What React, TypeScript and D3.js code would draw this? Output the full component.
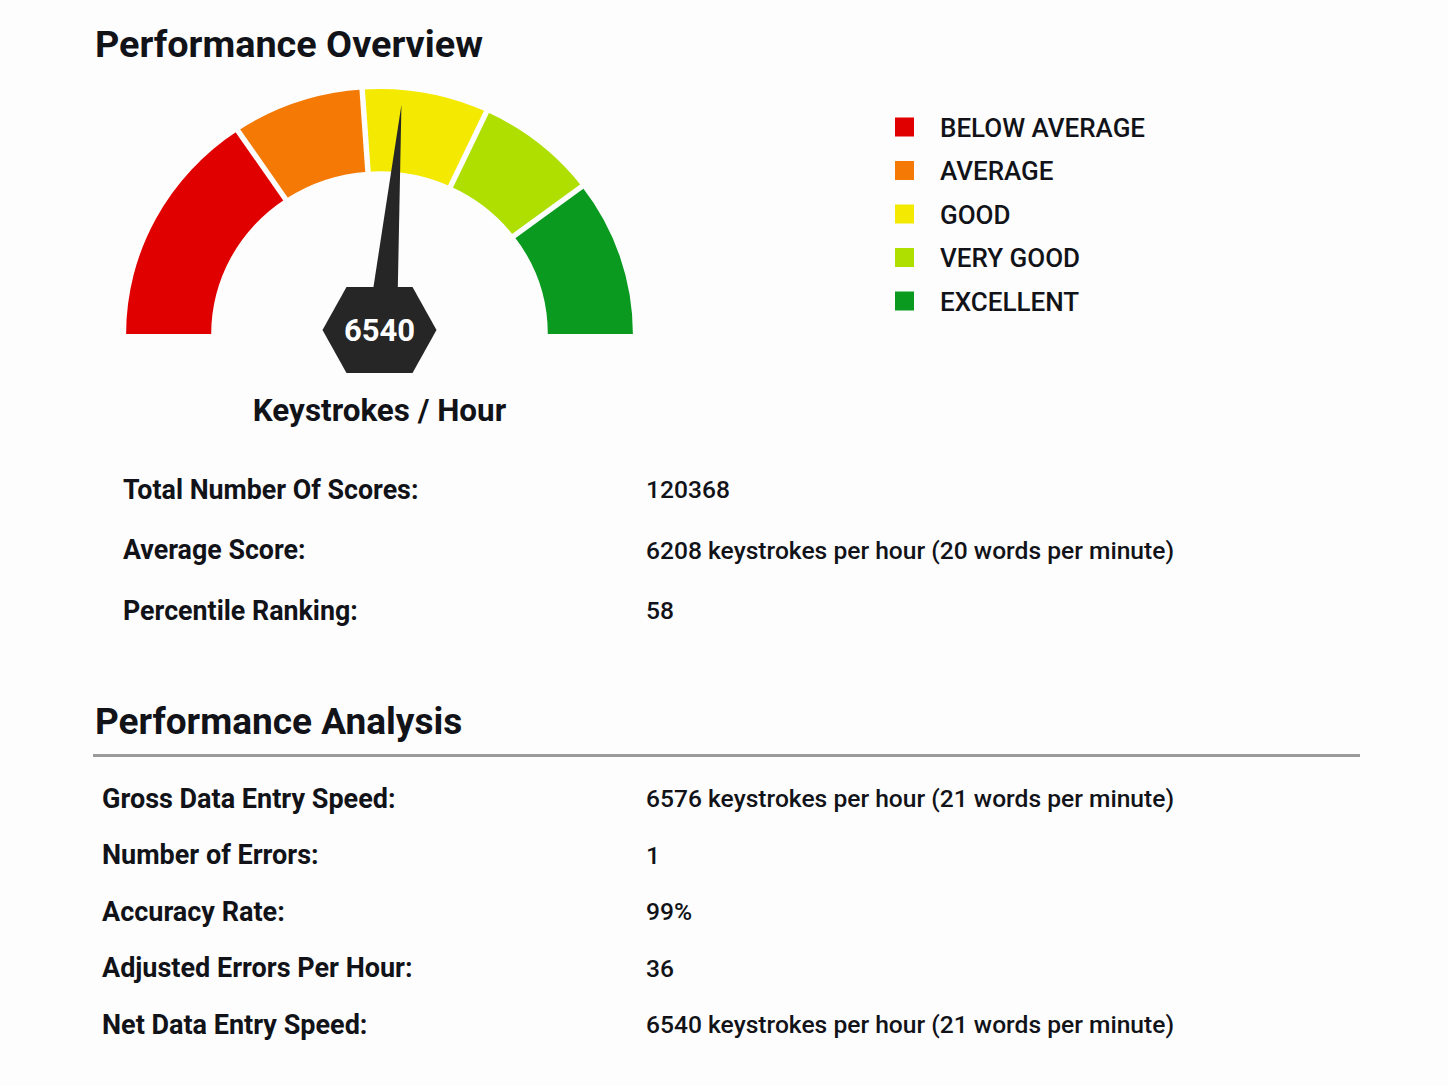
import React from "react";
import * as d3 from "d3";

const bandNames = ["BELOW AVERAGE", "AVERAGE", "GOOD", "VERY GOOD", "EXCELLENT"];
const bandColors = ["#e10000", "#f47a05", "#f4e900", "#aedf00", "#0a9a20"];
const bandEnds = [3860, 5930, 7920, 9850, 12400];
const gaugeMin = 0;
const gaugeMax = 12400;
const needleValue = 6540;
const gaugeLabel = "Keystrokes / Hour";

const overviewLabels = ["Total Number Of Scores:", "Average Score:", "Percentile Ranking:"];
const overviewValues = ["120368", "6208 keystrokes per hour (20 words per minute)", "58"];

const analysisLabels = [
  "Gross Data Entry Speed:",
  "Number of Errors:",
  "Accuracy Rate:",
  "Adjusted Errors Per Hour:",
  "Net Data Entry Speed:",
];
const analysisValues = [
  "6576 keystrokes per hour (21 words per minute)",
  "1",
  "99%",
  "36",
  "6540 keystrokes per hour (21 words per minute)",
];

const FONT = "Roboto, 'Noto Sans', sans-serif";
const INK = "#111318";

export default function App() {
  const W = 1448;
  const H = 1086;
  const cx = 379.5;
  const cy = 334;
  const rOuter = 253.4;
  const rInner = 168.3;
  const ySquash = 0.967;

  const angle = d3.scaleLinear().domain([gaugeMin, gaugeMax]).range([-Math.PI / 2, Math.PI / 2]);
  const arc = d3.arc<any>().innerRadius(rInner).outerRadius(rOuter);

  const bands = bandEnds.map((end, i) => ({
    start: i === 0 ? gaugeMin : bandEnds[i - 1],
    end,
    color: bandColors[i],
    name: bandNames[i],
  }));

  // needle
  const px = 382;
  const py = 330;
  const th = angle(needleValue);
  const L = 226;
  const tip: [number, number] = [px + L * Math.sin(th), py - L * Math.cos(th)];
  const hw = 15;
  const perp = [Math.cos(th), Math.sin(th)];
  const needlePts: [number, number][] = [
    [px - perp[0] * hw, py - perp[1] * hw],
    tip,
    [px + perp[0] * hw, py + perp[1] * hw],
  ];

  const hx = 379.5;
  const hy = 330;
  const hexPts: [number, number][] = [
    [hx - 57, hy],
    [hx - 33, hy - 43],
    [hx + 33, hy - 43],
    [hx + 57, hy],
    [hx + 33, hy + 43],
    [hx - 33, hy + 43],
  ];
  const line = d3.line();

  const legendY = d3.scalePoint<string>().domain(bandNames).range([127, 301]);
  const overviewY = d3.scalePoint<string>().domain(overviewLabels).range([489, 610]);
  const analysisY = d3.scalePoint<string>().domain(analysisLabels).range([798, 1024]);

  return (
    <svg
      width={W}
      height={H}
      viewBox={`0 0 ${W} ${H}`}
      style={{ position: "absolute", left: 0, top: 0, background: "#fdfdfd", fontFamily: FONT }}
    >
      <rect x={0} y={0} width={W} height={H} fill="#fdfdfd" />
      <text x={95} y={57} fontSize={37.8} fontWeight={700} fill={INK}>
        Performance Overview
      </text>

      <g transform={`translate(${cx},${cy}) scale(1,${ySquash})`}>
        {bands.map((b) => (
          <path
            key={b.name}
            d={arc({ startAngle: angle(b.start), endAngle: angle(b.end) }) as string}
            fill={b.color}
          />
        ))}
        {bandEnds.slice(0, -1).map((v) => {
          const a = angle(v);
          return (
            <line
              key={v}
              x1={(rInner - 2) * Math.sin(a)}
              y1={-(rInner - 2) * Math.cos(a)}
              x2={(rOuter + 2) * Math.sin(a)}
              y2={-(rOuter + 2) * Math.cos(a)}
              stroke="#fdfdfd"
              strokeWidth={5.5}
            />
          );
        })}
      </g>

      <path d={line(needlePts) + "Z"} fill="#262626" />
      <path d={line(hexPts) + "Z"} fill="#262626" />
      <text
        x={hx}
        y={hy + 11}
        textAnchor="middle"
        fontSize={31}
        fontWeight={700}
        fill="#ffffff"
      >
        {needleValue}
      </text>
      <text x={cx} y={420.5} textAnchor="middle" fontSize={31.4} fontWeight={700} fill={INK}>
        {gaugeLabel}
      </text>

      {bands.map((b) => (
        <g key={b.name} transform={`translate(0,${legendY(b.name)})`}>
          <rect x={895} y={-9.5} width={19} height={19} fill={b.color} />
          <text x={940} y={9.5} fontSize={26} fontWeight={500} fill={INK}>
            {b.name}
          </text>
        </g>
      ))}

      {overviewLabels.map((l, i) => (
        <g key={l} transform={`translate(0,${overviewY(l)})`}>
          <text x={123} y={9.5} fontSize={26.8} fontWeight={700} fill={INK}>
            {l}
          </text>
          <text x={646} y={9} fontSize={24.6} fontWeight={500} fill={INK}>
            {overviewValues[i]}
          </text>
        </g>
      ))}

      <text x={95} y={734} fontSize={37} fontWeight={700} fill={INK}>
        Performance Analysis
      </text>
      <line x1={93} x2={1360} y1={755.5} y2={755.5} stroke="#9a9a9a" strokeWidth={3} />

      {analysisLabels.map((l, i) => (
        <g key={l} transform={`translate(0,${analysisY(l)})`}>
          <text x={102} y={9.5} fontSize={27} fontWeight={700} fill={INK}>
            {l}
          </text>
          <text x={646} y={9} fontSize={24.6} fontWeight={500} fill={INK}>
            {analysisValues[i]}
          </text>
        </g>
      ))}
    </svg>
  );
}
